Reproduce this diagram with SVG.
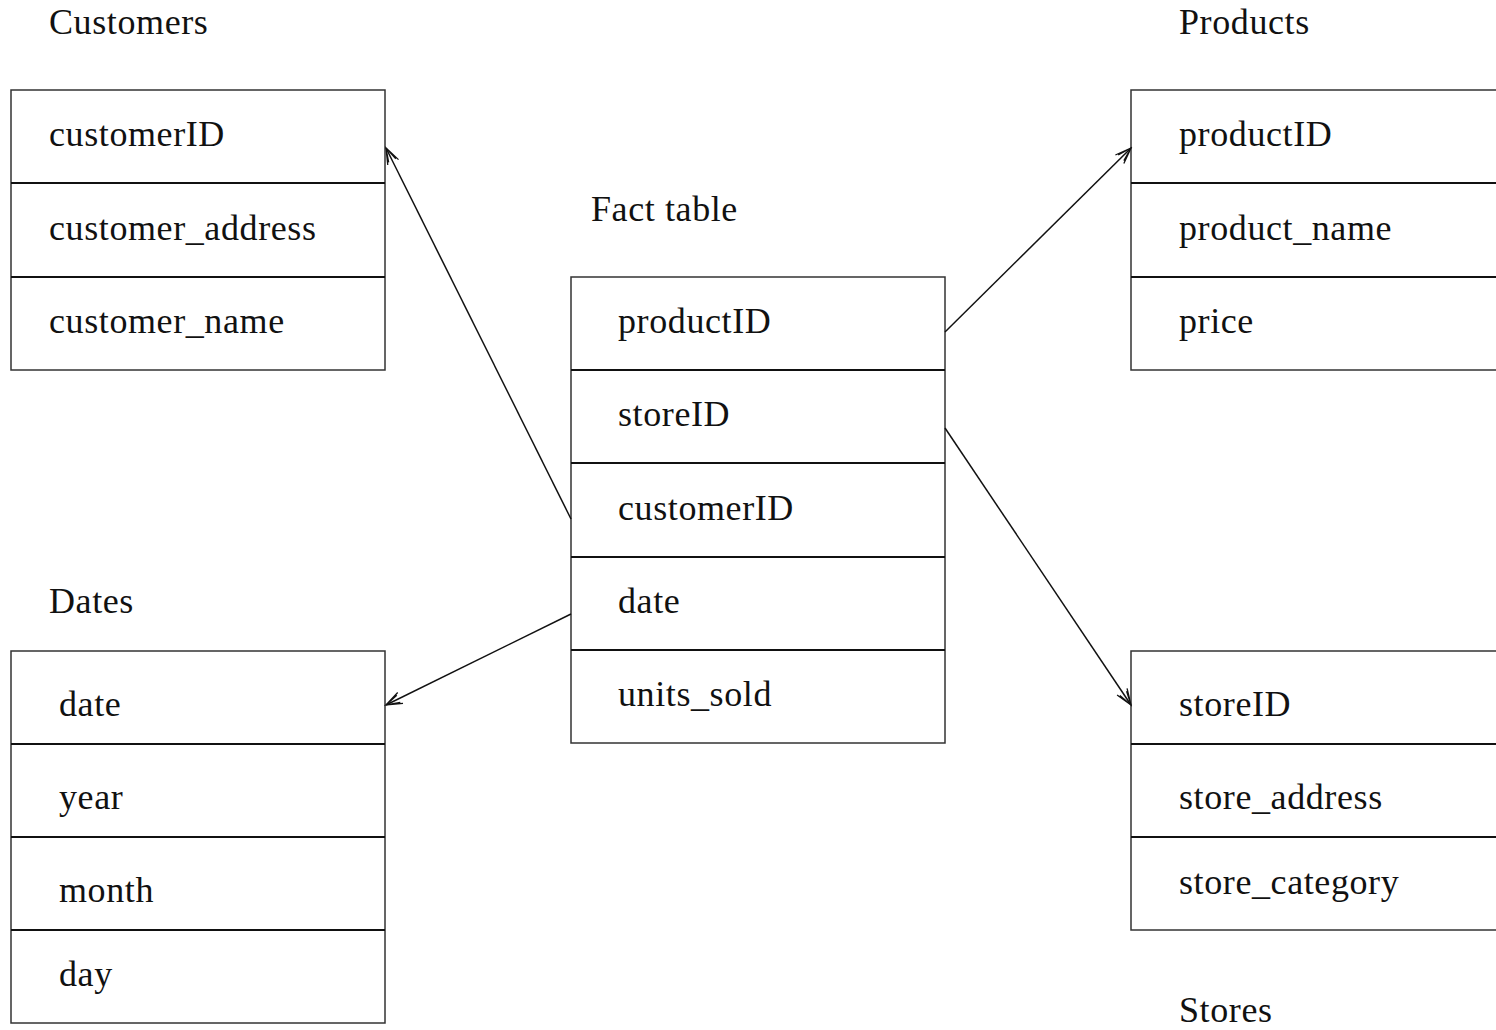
<svg xmlns="http://www.w3.org/2000/svg" width="1496" height="1030" viewBox="0 0 1496 1030">
<style>
text{font-family:"Liberation Serif","Times New Roman",serif;font-size:36px;letter-spacing:0.6px;fill:#111}
.box{fill:#fff;stroke:#333;stroke-width:1.5}
.div{stroke:#111;stroke-width:2}
.conn{stroke:#111;stroke-width:1.5;fill:none;marker-end:url(#arr)}
</style>
<defs>
<marker id="arr" markerWidth="20" markerHeight="14" refX="18" refY="7" orient="auto" markerUnits="userSpaceOnUse">
<path d="M2,1 L18,7 L2,13 M4,3 L18,7 L4,11" fill="none" stroke="#111" stroke-width="1.3"/>
</marker>
</defs>
<rect width="1496" height="1030" fill="#fff"/>
<g id="customers">
<text x="49" y="34">Customers</text>
<rect class="box" x="11" y="90" width="374" height="280"/>
<line class="div" x1="11" y1="183" x2="385" y2="183"/>
<line class="div" x1="11" y1="277" x2="385" y2="277"/>
<text x="49" y="146">customerID</text>
<text x="49" y="240">customer_address</text>
<text x="49" y="333">customer_name</text>
</g>
<g id="products">
<text x="1179" y="34">Products</text>
<rect class="box" x="1131" y="90" width="380" height="280"/>
<line class="div" x1="1131" y1="183" x2="1496" y2="183"/>
<line class="div" x1="1131" y1="277" x2="1496" y2="277"/>
<text x="1179" y="146">productID</text>
<text x="1179" y="240">product_name</text>
<text x="1179" y="333">price</text>
</g>
<g id="fact">
<text x="591" y="221">Fact table</text>
<rect class="box" x="571" y="277" width="374" height="466"/>
<line class="div" x1="571" y1="370" x2="945" y2="370"/>
<line class="div" x1="571" y1="463" x2="945" y2="463"/>
<line class="div" x1="571" y1="557" x2="945" y2="557"/>
<line class="div" x1="571" y1="650" x2="945" y2="650"/>
<text x="618" y="333">productID</text>
<text x="618" y="426">storeID</text>
<text x="618" y="520">customerID</text>
<text x="618" y="613">date</text>
<text x="618" y="706">units_sold</text>
</g>
<g id="dates">
<text x="49" y="613">Dates</text>
<rect class="box" x="11" y="651" width="374" height="372"/>
<line class="div" x1="11" y1="744" x2="385" y2="744"/>
<line class="div" x1="11" y1="837" x2="385" y2="837"/>
<line class="div" x1="11" y1="930" x2="385" y2="930"/>
<text x="59" y="716">date</text>
<text x="59" y="809">year</text>
<text x="59" y="902">month</text>
<text x="59" y="986">day</text>
</g>
<g id="stores">
<rect class="box" x="1131" y="651" width="380" height="279"/>
<line class="div" x1="1131" y1="744" x2="1496" y2="744"/>
<line class="div" x1="1131" y1="837" x2="1496" y2="837"/>
<text x="1179" y="716">storeID</text>
<text x="1179" y="809">store_address</text>
<text x="1179" y="894">store_category</text>
<text x="1179" y="1022">Stores</text>
</g>
<g id="connectors">
<line class="conn" x1="571" y1="519" x2="386" y2="148"/>
<line class="conn" x1="945" y1="332" x2="1131" y2="148"/>
<line class="conn" x1="945" y1="428" x2="1131" y2="705"/>
<line class="conn" x1="571" y1="614" x2="386" y2="705"/>
</g>
</svg>
